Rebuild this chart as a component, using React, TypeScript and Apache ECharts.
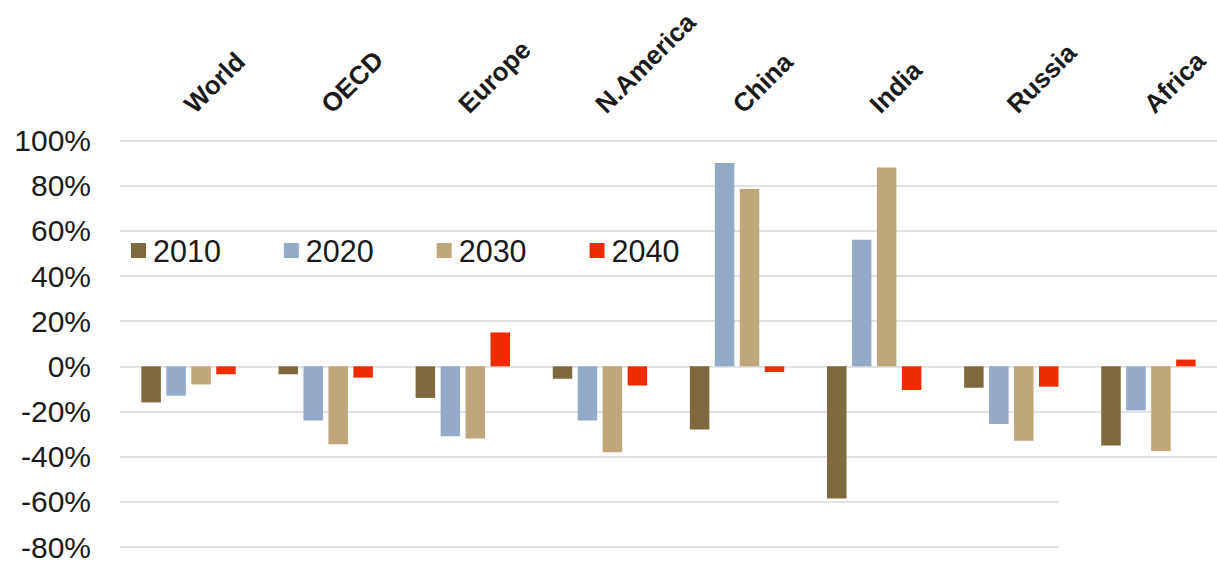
import React, { useEffect, useRef } from "react";
import * as echarts from "echarts";

const categories = ["World", "OECD", "Europe", "N.America", "China", "India", "Russia", "Africa"];
const seriesNames = ["2010", "2020", "2030", "2040"];
const values2010 = [-16, -3.5, -14, -5.5, -28, -58.5, -9.5, -35];
const values2020 = [-13, -24, -31, -24, 90, 56, -25.5, -19.5];
const values2030 = [-8, -34.5, -32, -38, 78.5, 88, -33, -37.5];
const values2040 = [-3.5, -5, 15, -8.5, -2.5, -10.5, -9, 3];
const colors = ["#7F6A40", "#95AAC8", "#BFA67B", "#EE2C00"];

const FONT = "'Liberation Sans', Arial, sans-serif";

export default function App() {
  const ref = useRef<HTMLDivElement>(null);
  useEffect(() => {
    if (!ref.current) return;
    const chart = echarts.init(ref.current, null, { renderer: "svg" });
    const data = [values2010, values2020, values2030, values2040];
    chart.setOption({
      animation: false,
      textStyle: { fontFamily: FONT },
      grid: { left: 120, right: -8.6, top: 140.5, bottom: 11.3, containLabel: false },
      legend: {
        data: seriesNames,
        left: 126,
        top: 230,
        padding: 5,
        icon: "rect",
        itemWidth: 15,
        itemHeight: 15,
        itemGap: 63,
        textStyle: { fontSize: 30.5, color: "#1a1a1a", fontFamily: FONT, padding: [0, 0, 0, 2], lineHeight: 30 },
      },
      xAxis: {
        type: "category",
        position: "top",
        data: categories,
        axisLine: { show: false },
        axisTick: { show: false },
        axisLabel: {
          rotate: 45,
          margin: 32,
          fontSize: 26,
          fontWeight: "bold",
          color: "#1a1a1a",
          fontFamily: FONT,
          interval: 0,
        },
        splitLine: { show: false },
      },
      yAxis: {
        type: "value",
        min: -80,
        max: 100,
        interval: 20,
        axisLine: { show: false },
        axisTick: { show: false },
        axisLabel: {
          formatter: "{value}%",
          fontSize: 30,
          lineHeight: 22,
          color: "#1a1a1a",
          margin: 29,
          fontFamily: FONT,
        },
        splitLine: { lineStyle: { color: "#d9d9d9", width: 1.5 } },
      },
      graphic: [
        {
          type: "rect",
          shape: { x: 1059, y: 480, width: 170, height: 82 },
          style: { fill: "#ffffff" },
          z: 100,
        },
      ],
      series: seriesNames.map((name, i) => ({
        name,
        type: "bar",
        data: data[i],
        barWidth: 19.5,
        barGap: "28%",
        itemStyle: { color: colors[i] },
      })),
    });
    return () => chart.dispose();
  }, []);
  return (
    <div
      ref={ref}
      style={{ position: "fixed", left: 0, top: 0, width: 1217, height: 562, background: "#fff" }}
    />
  );
}
